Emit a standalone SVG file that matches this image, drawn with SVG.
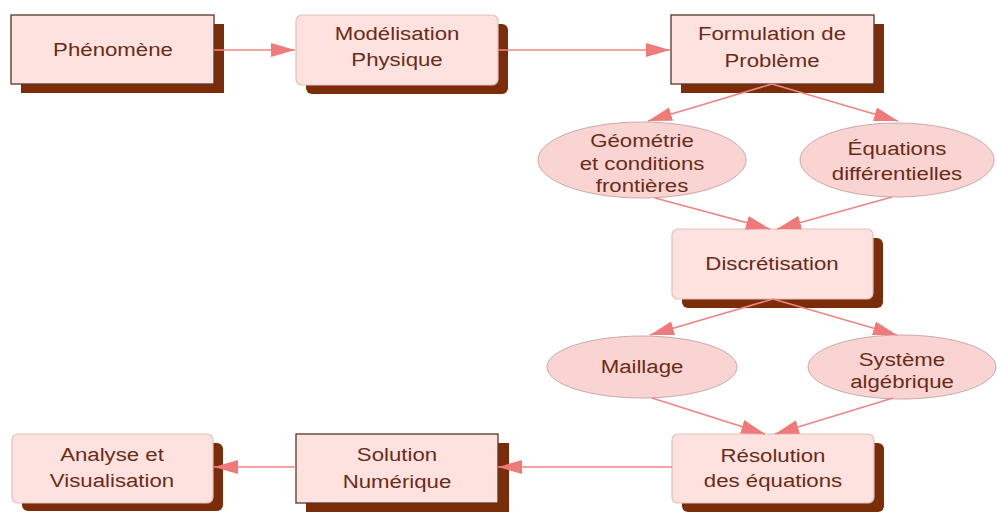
<svg xmlns="http://www.w3.org/2000/svg" width="997" height="512" viewBox="0 0 997 512">
<style>
.bg{fill:#ffffff}
.shadow{fill:#7b2c08}
.boxs{fill:#fde2e0;stroke:#5a3526;stroke-width:1.3}
.boxr{fill:#fde2e0;stroke:#e2bfbb;stroke-width:1.2}
.ell{fill:#f9d4d2;stroke:#c9abab;stroke-width:1}
.lbl{font-family:"Liberation Sans",Arial,sans-serif;font-size:19px;fill:#6a2c16;text-anchor:middle}
.con{stroke:#f08585;stroke-width:1.6;fill:none}
</style>
<defs>
<marker id="ah" markerUnits="userSpaceOnUse" markerWidth="26" markerHeight="16" refX="24" refY="7" orient="auto">
<path d="M0,0 L24,7 L0,14 z" fill="#f07a7a"/>
</marker>
</defs>
<rect class="bg" x="0" y="0" width="997" height="512"/>

<g id="phenomene">
<rect class="shadow" x="21" y="24" width="203" height="69"/>
<rect class="boxs" x="11" y="15" width="203" height="69"/>
<text class="lbl" transform="translate(113,56) scale(1.17,1)">Phénomène</text>
</g>

<g id="modelisation">
<rect class="shadow" x="306" y="24" width="202" height="70" rx="6"/>
<rect class="boxr" x="296" y="15" width="202" height="70" rx="6"/>
<text class="lbl" transform="translate(397,40) scale(1.17,1)">Modélisation</text>
<text class="lbl" transform="translate(397,66) scale(1.17,1)">Physique</text>
</g>

<g id="formulation">
<rect class="shadow" x="681" y="24" width="203" height="69"/>
<rect class="boxs" x="671" y="15" width="203" height="69"/>
<text class="lbl" transform="translate(772,40) scale(1.17,1)">Formulation de</text>
<text class="lbl" transform="translate(772,67) scale(1.17,1)">Problème</text>
</g>

<g id="geometrie">
<ellipse class="ell" cx="642" cy="160" rx="104" ry="38"/>
<text class="lbl" transform="translate(642,147) scale(1.17,1)">Géométrie</text>
<text class="lbl" transform="translate(642,170) scale(1.17,1)">et conditions</text>
<text class="lbl" transform="translate(642,192) scale(1.17,1)">frontières</text>
</g>

<g id="equations">
<ellipse class="ell" cx="897" cy="160" rx="97" ry="37"/>
<text class="lbl" transform="translate(897,155) scale(1.17,1)">Équations</text>
<text class="lbl" transform="translate(897,180) scale(1.17,1)">différentielles</text>
</g>

<g id="discretisation">
<rect class="shadow" x="682" y="238" width="201" height="70" rx="6"/>
<rect class="boxr" x="672" y="229" width="201" height="70" rx="6"/>
<text class="lbl" transform="translate(772,270) scale(1.17,1)">Discrétisation</text>
</g>

<g id="maillage">
<ellipse class="ell" cx="642" cy="367" rx="95" ry="31"/>
<text class="lbl" transform="translate(642,373) scale(1.17,1)">Maillage</text>
</g>

<g id="systeme">
<ellipse class="ell" cx="902" cy="367" rx="94" ry="32"/>
<text class="lbl" transform="translate(902,366) scale(1.17,1)">Système</text>
<text class="lbl" transform="translate(902,388) scale(1.17,1)">algébrique</text>
</g>

<g id="resolution">
<rect class="shadow" x="682" y="443" width="202" height="69" rx="6"/>
<rect class="boxr" x="672" y="434" width="202" height="69" rx="6"/>
<text class="lbl" transform="translate(773,462) scale(1.17,1)">Résolution</text>
<text class="lbl" transform="translate(773,487) scale(1.17,1)">des équations</text>
</g>

<g id="solution">
<rect class="shadow" x="306" y="443" width="203" height="69"/>
<rect class="boxs" x="296" y="434" width="202" height="69"/>
<text class="lbl" transform="translate(397,461) scale(1.17,1)">Solution</text>
<text class="lbl" transform="translate(397,488) scale(1.17,1)">Numérique</text>
</g>

<g id="analyse">
<rect class="shadow" x="22" y="443" width="201" height="68" rx="6"/>
<rect class="boxr" x="12" y="434" width="201" height="69" rx="6"/>
<text class="lbl" transform="translate(112,461) scale(1.17,1)">Analyse et</text>
<text class="lbl" transform="translate(112,487) scale(1.17,1)">Visualisation</text>
</g>

<g id="connectors">
<line class="con" x1="214" y1="50" x2="295" y2="50" marker-end="url(#ah)"/>
<line class="con" x1="498" y1="50" x2="670" y2="50" marker-end="url(#ah)"/>
<line class="con" x1="772" y1="84" x2="648" y2="121" marker-end="url(#ah)"/>
<line class="con" x1="772" y1="84" x2="898" y2="121" marker-end="url(#ah)"/>
<line class="con" x1="655" y1="198" x2="770" y2="229" marker-end="url(#ah)"/>
<line class="con" x1="892" y1="197" x2="777" y2="229" marker-end="url(#ah)"/>
<line class="con" x1="773" y1="299" x2="650" y2="335" marker-end="url(#ah)"/>
<line class="con" x1="773" y1="299" x2="897" y2="335" marker-end="url(#ah)"/>
<line class="con" x1="652" y1="398" x2="765" y2="434" marker-end="url(#ah)"/>
<line class="con" x1="893" y1="398" x2="775" y2="434" marker-end="url(#ah)"/>
<line class="con" x1="672" y1="467" x2="498" y2="467" marker-end="url(#ah)"/>
<line class="con" x1="296" y1="467" x2="214" y2="467" marker-end="url(#ah)"/>
</g>
</svg>
